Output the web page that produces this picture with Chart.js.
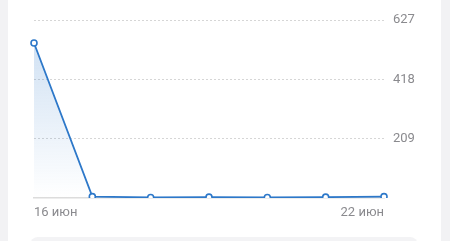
<!DOCTYPE html>
<html><head><meta charset="utf-8">
<script src="https://cdn.jsdelivr.net/npm/chart.js@4"></script>
<style>
html,body{margin:0;padding:0;width:450px;height:241px;overflow:hidden;background:#f2f2f4;font-family:Roboto,sans-serif;}
#card{position:absolute;left:8px;top:0;width:433px;height:241px;background:#fff;}
#wrap{position:absolute;left:0;top:0;width:433px;height:236px;}
#sub{position:absolute;left:22px;top:237px;width:388px;height:20px;background:#f3f3f5;border-radius:8px;}
</style></head><body>
<div id="card"><div id="wrap"><canvas id="c"></canvas></div><div id="sub"></div></div>
<script>
const categories = ["16 июн","17 июн","18 июн","19 июн","20 июн","21 июн","22 июн"];
const values = [546, 5, 2, 3, 2, 3, 5];
const yTicks = [0, 209, 418, 627];

const blue = '#2d78c9';
new Chart(document.getElementById('c'), {
  type: 'line',
  data: {
    labels: categories,
    datasets: [{
      data: values,
      borderColor: blue,
      borderWidth: 1.8,
      tension: 0,
      fill: 'origin',
      backgroundColor: (ctx) => {
        const ca = ctx.chart.chartArea;
        if (!ca) return 'rgba(45,120,201,0.15)';
        const g = ctx.chart.ctx.createLinearGradient(0, ca.top, 0, ca.bottom);
        g.addColorStop(0, 'rgba(45,120,201,0.25)');
        g.addColorStop(1, 'rgba(45,120,201,0.0)');
        return g;
      },
      pointRadius: 3,
      pointBorderWidth: 1.6,
      pointBackgroundColor: '#fff',
      pointBorderColor: blue
    }]
  },
  options: {
    responsive: true,
    maintainAspectRatio: false,
    animation: false,
    layout: { padding: { top: 20, right: 0, left: 26, bottom: 0 } },
    plugins: { legend: { display: false }, tooltip: { enabled: false } },
    scales: {
      x: {
        offset: false,
        grid: { display: false, drawTicks: false },
        border: { display: true, color: '#dcdcdc', width: 1.5 },
        ticks: {
          autoSkip: false, maxRotation: 0, align: 'inner', padding: 7,
          color: '#8a8a8e', font: { family: 'Roboto', size: 13 },
          callback: (v, i) => (i === 0 || i === categories.length - 1) ? categories[i] : ''
        },
        afterFit: (s) => { s.height = 38; }
      },
      y: {
        position: 'right',
        min: 0, max: 627,
        afterBuildTicks: (s) => { s.ticks = yTicks.map(v => ({ value: v })); },
        grid: {
          drawTicks: false,
          color: (c) => c.tick && c.tick.value === 0 ? 'rgba(0,0,0,0)' : '#d6d6d6',
          lineWidth: 1
        },
        border: { display: false, dash: [2, 2] },
        ticks: {
          padding: 9, color: '#8a8a8e', font: { family: 'Roboto', size: 13 },
          callback: (v) => v === 0 ? '' : String(v)
        },
        afterFit: (s) => { s.width = 57; }
      }
    }
  }
});
</script>
</body></html>
